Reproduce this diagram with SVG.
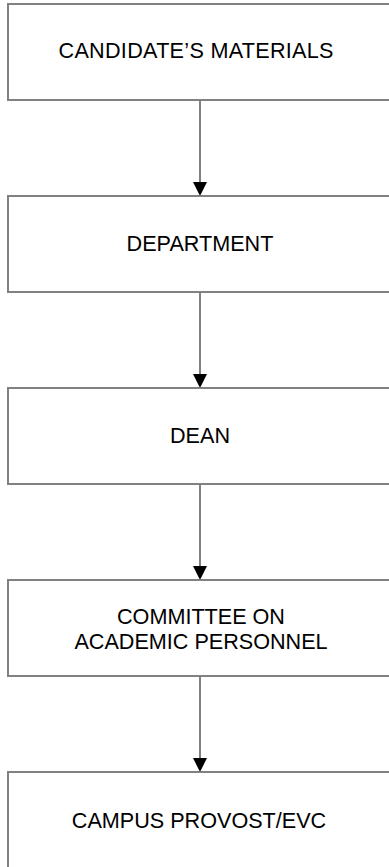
<svg xmlns="http://www.w3.org/2000/svg" width="389" height="867" viewBox="0 0 389 867">
<style>
.box{fill:#fff;stroke:#808080;stroke-width:2}
.lbl{font-family:"Liberation Sans",Arial,sans-serif;font-size:21.6px;fill:#000;text-anchor:middle}
.conn{stroke:#808080;stroke-width:2;fill:none}
.head{fill:#000}
</style>
<rect width="389" height="867" fill="#fff"/>
<g id="connectors">
<line class="conn" x1="200" y1="100" x2="200" y2="184"/>
<polygon class="head" points="193,182 207,182 200,196"/>
<line class="conn" x1="200" y1="292" x2="200" y2="376"/>
<polygon class="head" points="193,374 207,374 200,388"/>
<line class="conn" x1="200" y1="484" x2="200" y2="568"/>
<polygon class="head" points="193,566 207,566 200,580"/>
<line class="conn" x1="200" y1="676" x2="200" y2="760"/>
<polygon class="head" points="193,758 207,758 200,772"/>
</g>
<g id="n1">
<rect class="box" x="8" y="4" width="390" height="96"/>
<text class="lbl" x="196" y="58" textLength="275">CANDIDATE’S MATERIALS</text>
</g>
<g id="n2">
<rect class="box" x="8" y="196" width="390" height="96"/>
<text class="lbl" x="200" y="251">DEPARTMENT</text>
</g>
<g id="n3">
<rect class="box" x="8" y="388" width="390" height="96"/>
<text class="lbl" x="200" y="443">DEAN</text>
</g>
<g id="n4">
<rect class="box" x="8" y="580" width="390" height="96"/>
<text class="lbl" x="201" y="624">COMMITTEE ON</text>
<text class="lbl" x="201" y="649">ACADEMIC PERSONNEL</text>
</g>
<g id="n5">
<rect class="box" x="8" y="772" width="390" height="120"/>
<text class="lbl" x="199" y="828">CAMPUS PROVOST/EVC</text>
</g>
</svg>
